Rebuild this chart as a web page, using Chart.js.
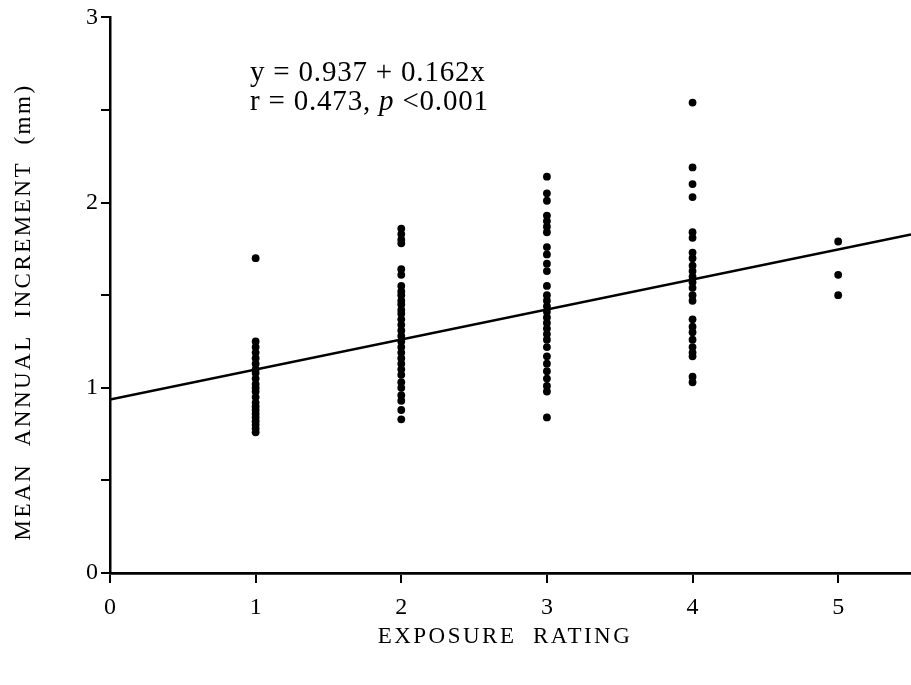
<!DOCTYPE html>
<html>
<head>
<meta charset="utf-8">
<script src="https://cdn.jsdelivr.net/npm/chart.js@4"></script>
<style>
  html, body { margin: 0; padding: 0; background: #fff; overflow: hidden; }
  #wrap { width: 915px; height: 685px; position: relative; }
</style>
</head>
<body>
<div id="wrap"><canvas id="chart" width="915" height="685"></canvas></div>
<script>
const SERIF = "'Liberation Serif', 'Times New Roman', serif";

// exposure rating categories and the readings in each column
const ratings = [1, 2, 3, 4, 5];
const rating1 = [1.70, 1.25, 1.22, 1.19, 1.16, 1.13, 1.10, 1.08, 1.05, 1.02, 1.00, 0.98, 0.95, 0.92, 0.90, 0.88, 0.86, 0.84, 0.82, 0.80, 0.78, 0.76];
const rating2 = [1.86, 1.83, 1.80, 1.78, 1.64, 1.61, 1.55, 1.52, 1.50, 1.47, 1.45, 1.42, 1.40, 1.37, 1.34, 1.31, 1.28, 1.25, 1.22, 1.19, 1.16, 1.13, 1.10, 1.07, 1.03, 1.00, 0.96, 0.93, 0.88, 0.83];
const rating3 = [2.14, 2.05, 2.01, 1.93, 1.90, 1.87, 1.84, 1.76, 1.72, 1.67, 1.63, 1.55, 1.50, 1.47, 1.44, 1.41, 1.38, 1.35, 1.32, 1.29, 1.26, 1.22, 1.17, 1.13, 1.09, 1.05, 1.01, 0.98, 0.84];
const rating4 = [2.54, 2.19, 2.10, 2.03, 1.84, 1.81, 1.73, 1.70, 1.66, 1.63, 1.60, 1.57, 1.54, 1.50, 1.47, 1.37, 1.33, 1.30, 1.26, 1.22, 1.19, 1.17, 1.06, 1.03];
const rating5 = [1.79, 1.61, 1.50];
const columns = [rating1, rating2, rating3, rating4, rating5];

// fitted line end points
const fitX = [0, 5.5];
const fitY = [0.937, 1.828];

const xTicks = [0, 1, 2, 3, 4, 5];
const yTicks = [0, 0.5, 1, 1.5, 2, 2.5, 3];

const points = [];
columns.forEach((col, i) => {
  col.forEach((v) => points.push({ x: ratings[i], y: v }));
});

const textPlugin = {
  id: 'labels',
  afterDraw(chart) {
    const ctx = chart.ctx;
    ctx.save();
    ctx.fillStyle = '#000';
    ctx.letterSpacing = '2.5px';
    ctx.font = '23px ' + SERIF;
    ctx.textAlign = 'center';
    ctx.textBaseline = 'middle';
    ctx.fillText('EXPOSURE  RATING', 505, 637);
    ctx.translate(24, 312);
    ctx.rotate(-Math.PI / 2);
    ctx.fillText('MEAN  ANNUAL  INCREMENT  (mm)', 0, 0);
    ctx.restore();

    ctx.save();
    ctx.fillStyle = '#000';
    ctx.letterSpacing = '0.8px';
    ctx.textAlign = 'left';
    ctx.textBaseline = 'alphabetic';
    ctx.font = '29px ' + SERIF;
    ctx.fillText('y = 0.937 + 0.162x', 250, 81);
    let x = 250;
    const part1 = 'r = 0.473, ';
    ctx.fillText(part1, x, 110);
    x += ctx.measureText(part1).width;
    ctx.font = 'italic 29px ' + SERIF;
    ctx.fillText('p', x, 110);
    x += ctx.measureText('p ').width;
    ctx.font = '29px ' + SERIF;
    ctx.fillText('<0.001', x, 110);
    ctx.restore();
  },
};

new Chart(document.getElementById('chart'), {
  type: 'scatter',
  data: {
    datasets: [
      {
        label: 'increment',
        data: points,
        pointRadius: 3.9,
        pointBackgroundColor: '#000',
        pointBorderWidth: 0,
      },
      {
        type: 'line',
        label: 'fit',
        data: fitX.map((v, i) => ({ x: v, y: fitY[i] })),
        borderColor: '#000',
        borderWidth: 2.5,
        pointRadius: 0,
        fill: false,
      },
    ],
  },
  options: {
    responsive: false,
    animation: false,
    layout: { padding: { top: 16, right: 0, left: 0, bottom: 0 } },
    plugins: { legend: { display: false }, tooltip: { enabled: false } },
    scales: {
      x: {
        type: 'linear',
        min: 0,
        max: 5.5,
        afterBuildTicks: (s) => { s.ticks = xTicks.map((v) => ({ value: v })); },
        afterFit: (s) => { s.height = 112; },
        border: { display: true, color: '#000', width: 2.8 },
        grid: { drawOnChartArea: false, drawTicks: true, tickLength: 10, color: '#000', lineWidth: 2 },
        ticks: { color: '#000', font: { family: SERIF, size: 24 }, padding: 10, maxRotation: 0 },
      },
      y: {
        min: 0,
        max: 3,
        afterBuildTicks: (s) => { s.ticks = yTicks.map((v) => ({ value: v })); },
        afterFit: (s) => { s.width = 110; },
        border: { display: true, color: '#000', width: 2.5 },
        grid: { drawOnChartArea: false, drawTicks: true, tickLength: 9, color: '#000', lineWidth: 2 },
        ticks: {
          color: '#000',
          font: { family: SERIF, size: 24 },
          padding: 3,
          callback: (v) => (Number.isInteger(v) ? String(v) : ''),
        },
      },
    },
  },
  plugins: [textPlugin],
});
</script>
</body>
</html>
